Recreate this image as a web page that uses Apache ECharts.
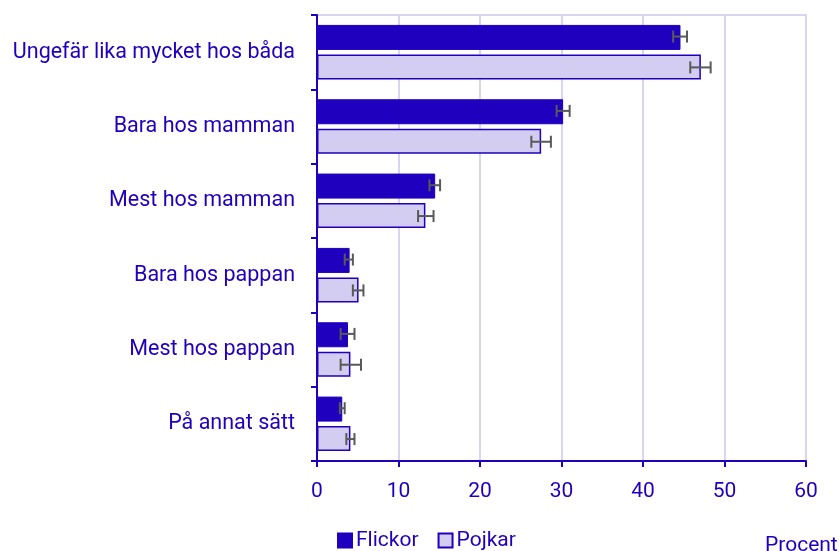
<!DOCTYPE html>
<html>
<head>
<meta charset="utf-8">
<script src="https://cdn.jsdelivr.net/npm/echarts@6/dist/echarts.min.js"></script>
<style>
  html, body { margin: 0; padding: 0; background: #fff; }
  #chart { width: 839px; height: 551px; }
</style>
</head>
<body>
<div id="chart"></div>
<script>
  // data
  const categories = ['Ungefär lika mycket hos båda', 'Bara hos mamman', 'Mest hos mamman',
    'Bara hos pappan', 'Mest hos pappan', 'På annat sätt']
  const flickor = [44.6, 30.2, 14.5, 4.0, 3.8, 3.1]
  const flickorLow = [43.7, 29.4, 13.8, 3.4, 2.9, 2.8]
  const flickorHigh = [45.4, 31.0, 15.1, 4.4, 4.6, 3.4]
  const pojkar = [47.1, 27.5, 13.3, 5.1, 4.1, 4.1]
  const pojkarLow = [45.8, 26.3, 12.4, 4.4, 2.9, 3.6]
  const pojkarHigh = [48.3, 28.7, 14.3, 5.7, 5.4, 4.6]
  const xTicks = [0, 10, 20, 30, 40, 50, 60]

  const blue = '#1e00be'
  const light = '#d3cdf1'
  const grid = '#d8d5f0'

  const chart = echarts.init(document.getElementById('chart'))

  function errorBar(offset) {
    return function (params, api) {
      const cat = api.value(0)
      const lo = api.coord([api.value(1), cat])
      const hi = api.coord([api.value(2), cat])
      const band = api.size([0, 1])[1]
      const y = lo[1] + offset * band
      const h = 6
      const style = { stroke: '#595959', lineWidth: 2 }
      return {
        type: 'group',
        children: [
          { type: 'line', shape: { x1: lo[0], y1: y, x2: hi[0], y2: y }, style },
          { type: 'line', shape: { x1: lo[0], y1: y - h, x2: lo[0], y2: y + h }, style },
          { type: 'line', shape: { x1: hi[0], y1: y - h, x2: hi[0], y2: y + h }, style }
        ]
      }
    }
  }

  chart.setOption({
    animation: false,
    textStyle: { fontFamily: 'Roboto', color: blue },
    grid: { left: 317, right: 33, top: 15, bottom: 90, show: true,
      borderColor: grid, borderWidth: 2 },
    legend: {
      left: 337,
      top: 530,
      padding: 0,
      itemWidth: 14,
      itemHeight: 14,
      itemGap: 19,
      icon: 'rect',
      textStyle: { fontSize: 21, color: blue, padding: [0, 0, 0, -1] },
      data: ['Flickor', 'Pojkar']
    },
    graphic: [{
      type: 'text',
      left: 765,
      top: 535,
      style: { text: 'Procent', font: '21px Roboto', fill: blue }
    }],
    xAxis: {
      type: 'value',
      min: 0,
      max: 60,
      interval: 10,
      axisLine: { show: true, lineStyle: { color: blue, width: 2 } },
      axisTick: { show: true, length: 6, lineStyle: { color: blue, width: 2 } },
      axisLabel: { fontSize: 21, color: blue, margin: 20,
        formatter: v => xTicks.includes(v) ? String(v) : '' },
      splitLine: { show: true, lineStyle: { color: grid, width: 2 } }
    },
    yAxis: {
      type: 'category',
      inverse: true,
      data: categories,
      axisLine: { show: true, lineStyle: { color: blue, width: 2 } },
      axisTick: { show: true, length: 6, lineStyle: { color: blue, width: 2 } },
      axisLabel: { fontSize: 21.5, color: blue, margin: 22 },
      splitLine: { show: false }
    },
    series: [
      {
        name: 'Flickor',
        type: 'bar',
        data: flickor,
        barWidth: 25,
        barGap: '18%',
        itemStyle: { color: blue, borderColor: blue, borderWidth: 1 }
      },
      {
        name: 'Pojkar',
        type: 'bar',
        data: pojkar,
        barWidth: 25,
        barGap: '18%',
        itemStyle: { color: light, borderColor: blue, borderWidth: 1.5 }
      },
      {
        type: 'custom',
        renderItem: errorBar(-0.21),
        data: categories.map((c, i) => [i, flickorLow[i], flickorHigh[i]]),
        encode: { x: [1, 2], y: 0 },
        z: 10
      },
      {
        type: 'custom',
        renderItem: errorBar(0.205),
        data: categories.map((c, i) => [i, pojkarLow[i], pojkarHigh[i]]),
        encode: { x: [1, 2], y: 0 },
        z: 10
      }
    ]
  })
</script>
</body>
</html>
